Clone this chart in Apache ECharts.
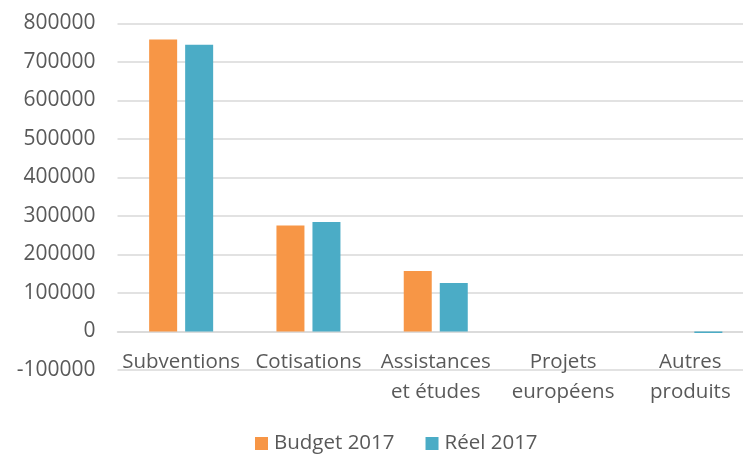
<!DOCTYPE html>
<html>
<head>
<meta charset="utf-8">
<script src="https://cdn.jsdelivr.net/npm/echarts@6/dist/echarts.min.js"></script>
<style>html,body{margin:0;padding:0;background:#fff;}#c{width:743px;height:455px;}</style>
</head>
<body>
<div id="c"></div>
<script>
const categories = ['Subventions', 'Cotisations', 'Assistances\net études', 'Projets\neuropéens', 'Autres\nproduits'];
const budget2017 = [758000, 275000, 157000, 0, 0];
const reel2017 = [744000, 284000, 126000, 0, -4000];
const seriesNames = ['Budget 2017', 'Réel 2017'];
const yMin = -100000, yMax = 800000, yStep = 100000;

const FONT = '"Open Sans", "Noto Sans", sans-serif';
const chart = echarts.init(document.getElementById('c'), null, {renderer: 'canvas'});
chart.setOption({
  animation: false,
  backgroundColor: '#fff',
  textStyle: {fontFamily: FONT},
  grid: {left: 117.5, width: 636.5, top: 23.3, bottom: 85, containLabel: false, outerBoundsMode: 'none'},
  legend: {
    left: 250, top: 428,
    itemWidth: 13, itemHeight: 13, itemGap: 31,
    icon: 'rect',
    textStyle: {fontFamily: FONT, fontSize: 20.5, color: '#595959', padding: [0, 0, 0, 1]},
    data: seriesNames
  },
  xAxis: {
    type: 'category',
    data: categories,
    axisLine: {onZero: true, lineStyle: {color: '#d9d9d9', width: 1.5}},
    axisTick: {show: false},
    axisLabel: {fontFamily: FONT, fontSize: 20.5, color: '#595959', margin: -23, lineHeight: 30, interval: 0}
  },
  yAxis: {
    type: 'value',
    min: yMin, max: yMax, interval: yStep,
    axisLine: {show: false},
    axisTick: {show: false},
    splitLine: {lineStyle: {color: '#d9d9d9', width: 1.5}},
    axisLabel: {fontFamily: FONT, fontSize: 21, color: '#595959', margin: 22, formatter: v => String(v)}
  },
  series: [
    {name: seriesNames[0], type: 'bar', data: budget2017, barWidth: 28, barGap: '28.6%',
     itemStyle: {color: '#F79646'}},
    {name: seriesNames[1], type: 'bar', data: reel2017, barWidth: 28,
     itemStyle: {color: '#4BACC6'}}
  ]
});
</script>
</body>
</html>
